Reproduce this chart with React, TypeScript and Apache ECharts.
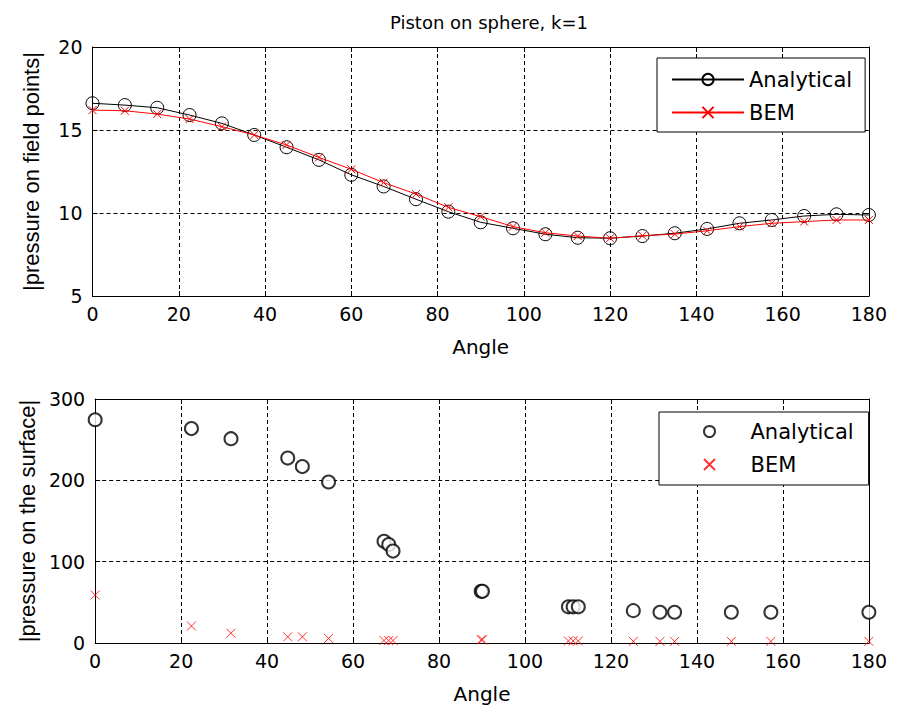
import React, { useEffect, useRef } from "react";
import * as echarts from "echarts";

const titleText = "Piston on sphere, k=1";
const xTitle = "Angle";
const yTitleTop = "|pressure on field points|";
const yTitleBottom = "|pressure on the surface|";

const anglesTop = [0, 7.5, 15, 22.5, 30, 37.5, 45, 52.5, 60, 67.5, 75, 82.5, 90, 97.5, 105, 112.5, 120, 127.5, 135, 142.5, 150, 157.5, 165, 172.5, 180];
const analyticalTop = [16.61, 16.5, 16.34, 15.9, 15.4, 14.7, 13.96, 13.2, 12.3, 11.6, 10.83, 10.08, 9.44, 9.08, 8.72, 8.51, 8.48, 8.61, 8.78, 9.04, 9.38, 9.58, 9.82, 9.92, 9.88];
const bemTop = [16.2, 16.16, 15.96, 15.66, 15.2, 14.7, 14.1, 13.35, 12.63, 11.83, 11.14, 10.34, 9.78, 9.18, 8.81, 8.61, 8.48, 8.63, 8.73, 8.93, 9.18, 9.38, 9.48, 9.58, 9.58];

const anglesBottom = [0, 22.4, 31.6, 44.8, 48.2, 54.3, 67.2, 68.3, 69.3, 89.8, 90.1, 110.1, 111.2, 112.4, 125.2, 131.4, 134.8, 148, 157.2, 180];
const analyticalBottom = [274.5, 263.6, 251.2, 227.4, 216.9, 198, 125, 121, 113, 63.5, 63.5, 44.5, 44.5, 44.5, 39.8, 37.8, 37.8, 37.8, 37.8, 37.8];
const bemBottom = [59, 20.9, 12, 7.6, 7.6, 5.6, 3, 3, 3, 4, 4, 2.5, 2.5, 2.5, 2, 2, 2, 2, 2, 2];

const seriesNames = ["Analytical", "BEM"];
const xTicks = { min: 0, max: 180, interval: 20 };
const yTicksTop = { min: 5, max: 20, interval: 5 };
const yTicksBottom = { min: 0, max: 300, interval: 100 };

const WIDE = "'DejaVu Sans', Verdana, sans-serif";
const NARROW = "'Liberation Sans', Arial, sans-serif";
const X_SYMBOL = "path://M0,0L10,10M10,0L0,10";

function pairs(xs: number[], ys: number[]) {
  return xs.map((x, i) => [x, ys[i]]);
}

export default function App() {
  const ref = useRef<HTMLDivElement>(null);
  useEffect(() => {
    if (!ref.current) return;
    const chart = echarts.init(ref.current, null, { renderer: "svg" });
    const black = "#000";
    const tick = { show: true, inside: true, length: 5, lineStyle: { color: black, width: 1 } };
    const axisLine = { show: true, onZero: false, lineStyle: { color: black, width: 1 } };
    const split = { show: true, lineStyle: { color: black, width: 1, type: [4, 3] } };
    const labelStyle = { color: black, fontSize: 19, fontFamily: WIDE };

    const xMain = (gridIndex: number) => ({
      type: "value", gridIndex, ...xTicks, position: "bottom",
      axisLine, axisTick: tick, splitLine: split,
      axisLabel: { ...labelStyle, margin: 8 },
      name: xTitle, nameLocation: "middle", nameGap: 41,
      nameTextStyle: { color: black, fontSize: 20, fontFamily: WIDE },
    });
    const xTop = (gridIndex: number) => ({
      type: "value", gridIndex, ...xTicks, position: "top",
      axisLine, axisTick: tick, splitLine: { show: false }, axisLabel: { show: false },
    });
    const yMain = (gridIndex: number, t: any, name: string) => ({
      type: "value", gridIndex, ...t, position: "left",
      axisLine, axisTick: tick, splitLine: split,
      axisLabel: { ...labelStyle, margin: 10 },
      name, nameLocation: "middle", nameGap: 50,
      nameTextStyle: { color: black, fontSize: 22, fontFamily: NARROW },
    });
    const yRight = (gridIndex: number, t: any) => ({
      type: "value", gridIndex, ...t, position: "right",
      axisLine, axisTick: tick, splitLine: { show: false }, axisLabel: { show: false },
    });

    const legendBase = {
      orient: "vertical", itemWidth: 72, itemGap: 12,
      borderColor: black, borderWidth: 1,
      backgroundColor: "#fff", selectedMode: false,
      textStyle: { color: black, fontSize: 21, fontFamily: WIDE },
      z: 10,
    };

    chart.setOption({
      animation: false,
      backgroundColor: "#fff",
      title: {
        text: titleText, left: 476, top: 0, textAlign: "center",
        textStyle: { fontSize: 18, fontWeight: "normal", color: black, fontFamily: WIDE },
      },
      grid: [
        { left: 84.5, top: 39, width: 783.5, height: 249 },
        { left: 84.5, top: 391, width: 783.5, height: 248.3 },
      ],
      xAxis: [xMain(0), xTop(0), xMain(1), xTop(1)],
      yAxis: [
        yMain(0, yTicksTop, yTitleTop), yRight(0, yTicksTop),
        yMain(1, yTicksBottom, yTitleBottom), yRight(1, yTicksBottom),
      ],
      legend: [
        { ...legendBase, itemHeight: 14, padding: [11, 13, 9, 14], data: seriesNames, left: 649, top: 50 },
        {
          ...legendBase, itemHeight: 11, padding: [9, 15, 10, 44],
          data: seriesNames.map((n) => n + " "), formatter: (n: string) => n.trim(),
          left: 651, top: 404,
        },
      ],
      series: [
        {
          name: seriesNames[0], type: "line", xAxisIndex: 0, yAxisIndex: 0,
          data: pairs(anglesTop, analyticalTop),
          symbol: "circle", symbolSize: 13,
          lineStyle: { color: black, width: 1 },
          itemStyle: { color: "rgba(255,255,255,0)", borderColor: black, borderWidth: 1 },
          z: 3,
        },
        {
          name: seriesNames[1], type: "line", xAxisIndex: 0, yAxisIndex: 0,
          data: pairs(anglesTop, bemTop),
          symbol: X_SYMBOL, symbolSize: 8,
          lineStyle: { color: "#ff0000", width: 1 },
          itemStyle: { color: "#ff0000", borderColor: "#ff0000", borderWidth: 1 },
          z: 4,
        },
        {
          name: seriesNames[0] + " ", type: "scatter", xAxisIndex: 2, yAxisIndex: 2,
          data: pairs(anglesBottom, analyticalBottom),
          symbol: "emptyCircle", symbolSize: 13,
          itemStyle: { color: black, borderColor: black, borderWidth: 1 },
        },
        {
          name: seriesNames[1] + " ", type: "scatter", xAxisIndex: 2, yAxisIndex: 2,
          data: pairs(anglesBottom, bemBottom),
          symbol: X_SYMBOL, symbolSize: 9,
          itemStyle: { color: "#ff0000", borderColor: "#ff0000", borderWidth: 1 },
        },
      ],
    });
    return () => chart.dispose();
  }, []);
  return <div ref={ref} style={{ width: 882, height: 697 }} />;
}
